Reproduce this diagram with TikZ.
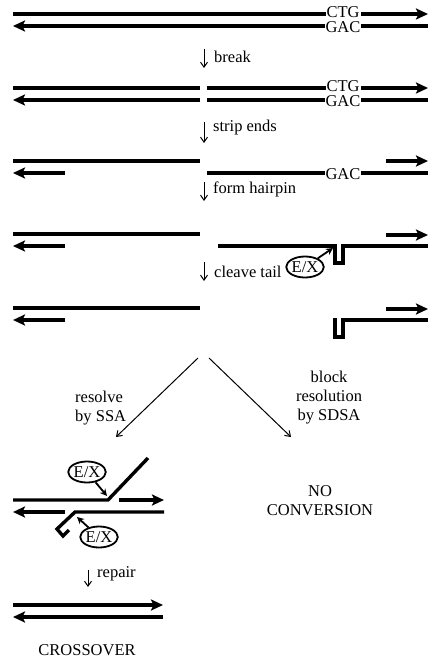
\documentclass[tikz,border=0pt]{standalone}
\usepackage{fontspec}
\setmainfont{Liberation Serif}
\usetikzlibrary{arrows.meta}
\usetikzlibrary{shapes.geometric}

\tikzset{
  strand/.style = {line width = 3.4pt, line join = miter},
  strandtip/.style = {strand, -{Stealth[length = 12pt, width = 11pt, inset = 2.5pt]}},
  steparrow/.style = {line width = 1pt, -{Straight Barb[length = 5pt, width = 7pt]}},
  seq/.style = {fill = white, inner xsep = 1pt, inner ysep = 0pt,
      text height = 10pt, text depth = 0pt},
  txt/.style = {inner sep = 0pt},
  enzyme/.style = {ellipse, draw = black, line width = 1.8pt,
      inner sep = 0pt, minimum width = 37pt, minimum height = 21pt},
  enzarrow/.style = {line width = 1.8pt, -{Stealth[length = 7pt, width = 7pt]}},
}

\begin{document}
\begin{tikzpicture}[x = 1pt, y = -1pt,
    font = \fontsize{16.5}{19}\selectfont]
  \useasboundingbox (0,0) rectangle (438,663);

% intact duplex
  \draw[strandtip] (13,14) -- (428,14);
  \draw[strandtip] (428,26) -- (13,26);
  \node[seq] (ctg1) at (343,12.5) {CTG};
  \node[seq] (gac1) at (343,27.5) {GAC};

  \coordinate (b1) at (204,49);
  \coordinate (b2) at (204,68);
  \draw[steparrow] (b1) -- (b2);
  \node[txt, anchor = west] (brk) at (214,57) {break};

% broken duplex
  \draw[strand] (13,88) -- (200,88);
  \draw[strandtip] (207,88) -- (428,88);
  \draw[strandtip] (200,100) -- (13,100);
  \draw[strand] (207,100) -- (428,100);
  \node[seq] (ctg2) at (343,86.5) {CTG};
  \node[seq] (gac2) at (343,101.5) {GAC};

  \coordinate (s1) at (204,122);
  \coordinate (s2) at (204,143);
  \draw[steparrow] (s1) -- (s2);
  \node[txt, anchor = west] (strip) at (213,128) {strip ends};

% stripped ends
  \draw[strand] (13,161) -- (200,161);
  \draw[strandtip] (65,173) -- (13,173);
  \draw[strand] (207,173) -- (428,173);
  \draw[strandtip] (386,161) -- (428,161);
  \node[seq] (gac3) at (343,174) {GAC};

  \coordinate (h1) at (204,182);
  \coordinate (h2) at (204,201);
  \draw[steparrow] (h1) -- (h2);
  \node[txt, anchor = west] (hairpin) at (213,189) {form hairpin};

% hairpin formed
  \draw[strand] (13,234) -- (200,234);
  \draw[strandtip] (65,246) -- (13,246);
  \draw[strandtip] (386,235) -- (428,235);
  \draw[strand] (218,246) -- (335,246) -- (335,263) -- (343,263)
      -- (343,246) -- (428,246);
  \coordinate (cut0) at (333,248);

  \coordinate (c1) at (204,262);
  \coordinate (c2) at (204,281);
  \draw[steparrow] (c1) -- (c2);
  \node[txt, anchor = west] (cleave) at (214,272) {cleave tail};
  \node[enzyme] (ex1) at (305,267) {E/X};
  \draw[enzarrow] (ex1) -- (cut0);

% tail cleaved
  \draw[strand] (13,308) -- (200,308);
  \draw[strandtip] (65,320) -- (13,320);
  \draw[strandtip] (386,309) -- (428,309);
  \draw[strand] (335,318) -- (335,337) -- (343,337) -- (343,320) -- (428,320);

% two ways out
  \coordinate (fork1) at (198,358);
  \coordinate (fork2) at (209,358);
  \coordinate (ssa) at (116,437);
  \coordinate (sdsa) at (291,437);
  \draw[steparrow] (fork1) -- (ssa);
  \draw[steparrow] (fork2) -- (sdsa);
  \node[txt, anchor = west, align = left] (resolve) at (75,408)
      {resolve\\by SSA};
  \node[txt, align = center] (block) at (329,398)
      {block\\resolution\\by SDSA};

% annealed by SSA
  \draw[strand] (13,500) -- (108,500) -- (148,458);
  \draw[strandtip] (119,500) -- (164,500);
  \draw[strandtip] (65,512) -- (13,512);
  \draw[strand] (164,512) -- (75,512) -- (57,529) -- (63,536) -- (69,530);
  \coordinate (cut1) at (107,496);
  \coordinate (cut2) at (77,517);
  \node[enzyme] (ex2) at (87,472) {E/X};
  \node[enzyme] (ex3) at (99,537) {E/X};
  \draw[enzarrow] (ex2) -- (cut1);
  \draw[enzarrow] (ex3) -- (cut2);

  \coordinate (r1) at (88,570);
  \coordinate (r2) at (88,587);
  \draw[steparrow] (r1) -- (r2);
  \node[txt, anchor = west] (repair) at (97,574) {repair};

% outcomes
  \draw[strandtip] (13,605) -- (163,605);
  \draw[strandtip] (163,617) -- (13,617);
  \node[txt] (cross) at (87,650) {CROSSOVER};
  \node[txt, align = center] (noconv) at (320,501) {NO\\CONVERSION};

\end{tikzpicture}
\end{document}
